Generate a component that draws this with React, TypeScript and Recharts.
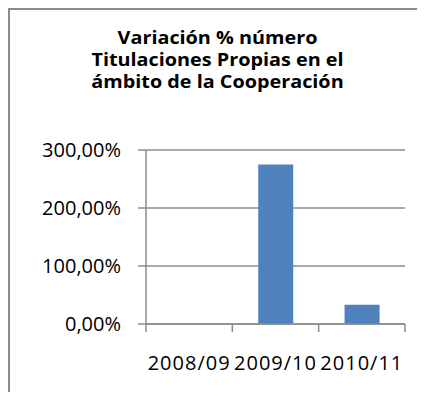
import { useEffect } from 'react'
import { BarChart, Bar, XAxis, YAxis, CartesianGrid } from 'recharts'

const categories = ['2008/09', '2009/10', '2010/11']
const variacion = [0, 275, 33.3]
const yTicks = [0, 100, 200, 300]

const titleLines = ['Variación % número', 'Titulaciones Propias en el', 'ámbito de la Cooperación']

const data = categories.map((name, i) => ({ name, value: variacion[i] }))

const axisGray = '#8c8c8c'
const font = '"Open Sans", sans-serif'

function formatPct(v: number): string {
    return `${v.toFixed(2).replace('.', ',')}%`
}

// category label plus Excel-style tick marks on the band edges
function CategoryTick(props: any) {
    const { x, y, payload, index, visibleTicksCount } = props
    const half = payload?.offset ?? 0
    const isLast = index === visibleTicksCount - 1
    return (
        <g>
            <line x1={x - half} x2={x - half} y1={y - 8} y2={y} stroke={axisGray} strokeWidth={1.5} />
            {isLast && (
                <line x1={x + half} x2={x + half} y1={y - 8} y2={y} stroke={axisGray} strokeWidth={1.5} />
            )}
            <text
                x={x}
                y={y + 38}
                textAnchor="middle"
                fill="#000"
                fontSize={20}
                fontFamily={font}
                letterSpacing={1}
            >
                {payload.value}
            </text>
        </g>
    )
}

export default function App() {
    useEffect(() => {
        document.documentElement.style.overflow = 'hidden'
        document.body.style.overflow = 'hidden'
    }, [])

    return (
        <div
            style={{
                width: 415,
                height: 390,
                marginBottom: -8,
                borderTop: `2px solid ${axisGray}`,
                borderLeft: `2px solid ${axisGray}`,
                position: 'relative',
                overflow: 'hidden',
                fontFamily: font,
            }}
        >
            <div
                style={{
                    position: 'absolute',
                    top: 16,
                    left: 0,
                    width: 415,
                    textAlign: 'center',
                    fontWeight: 700,
                    fontSize: 18,
                    lineHeight: '22px',
                    color: '#000',
                    transform: 'scaleX(1.1)',
                    transformOrigin: '50% 0',
                }}
            >
                {titleLines.map((t) => (
                    <div key={t}>{t}</div>
                ))}
            </div>
            <BarChart
                width={415}
                height={390}
                data={data}
                barCategoryGap="30%"
                margin={{ top: 140, right: 20, left: 0, bottom: 26 }}
            >
                <CartesianGrid vertical={false} stroke={axisGray} strokeWidth={1.5} />
                <XAxis
                    dataKey="name"
                    height={50}
                    axisLine={{ stroke: axisGray, strokeWidth: 1.5 }}
                    tickLine={false}
                    tickSize={8}
                    tickMargin={0}
                    tick={<CategoryTick />}
                    interval={0}
                />
                <YAxis
                    type="number"
                    domain={[0, 300]}
                    ticks={yTicks}
                    width={136}
                    tickFormatter={formatPct}
                    axisLine={{ stroke: axisGray, strokeWidth: 1.5 }}
                    tickLine={{ stroke: axisGray, strokeWidth: 1.5 }}
                    tickSize={8}
                    tickMargin={17}
                    tick={{ fill: '#000', fontSize: 20, fontFamily: font }}
                />
                <Bar dataKey="value" fill="#4f81bd" isAnimationActive={false} />
            </BarChart>
        </div>
    )
}
